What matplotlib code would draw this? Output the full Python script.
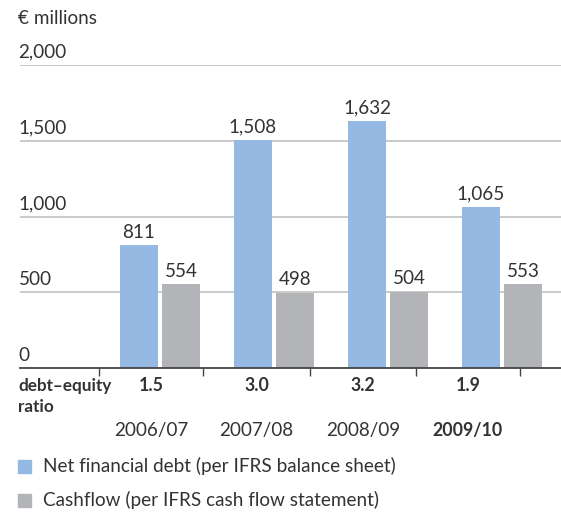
import matplotlib
matplotlib.use("Agg")
import matplotlib.pyplot as plt
from matplotlib.patches import Rectangle
import numpy as np

# data
years = ["2006/07", "2007/08", "2008/09", "2009/10"]
net_debt = [811, 1508, 1632, 1065]
cashflow = [554, 498, 504, 553]
ratios = ["1.5", "3.0", "3.2", "1.9"]
yticks = [0, 500, 1000, 1500, 2000]

blue = "#95b9e3"
grey = "#b3b4b7"
txt = "#333333"
fs = 13.6   # regular text
fsb = 12.3  # bold text

plt.rcParams['font.family'] = ['Lato', 'DejaVu Sans']

fig = plt.figure(figsize=(5.61, 5.24), dpi=100)
W, H = 561, 524
ax = fig.add_axes([20 / W, (H - 368) / H, 541 / W, 303 / H])

x = np.arange(len(years))
bw = 0.333
off = 0.184
b1 = ax.bar(x - off, net_debt, bw, color=blue, zorder=2)
b2 = ax.bar(x + off, cashflow, bw, color=grey, zorder=2)

for bars, vals in ((b1, net_debt), (b2, cashflow)):
    for r, v in zip(bars, vals):
        ax.annotate(f"{v:,}", (r.get_x() + r.get_width() / 2, v),
                    xytext=(0, 3), textcoords="offset points",
                    ha="center", va="bottom", fontsize=fs, color=txt)

ax.set_xlim(-1.228, 3.518)
ax.set_ylim(0, 2000)

# gridlines + y labels sitting on them
for t in yticks:
    if t > 0:
        ax.axhline(t, color="#c6c6c6", lw=1.3, zorder=1)
    ax.annotate(f"{t:,}", (0, t), xycoords=ax.get_yaxis_transform(),
                xytext=(-1, 3), textcoords="offset points",
                ha="left", va="bottom", fontsize=fs, color=txt)

for s in ["top", "right", "left"]:
    ax.spines[s].set_visible(False)
ax.spines["bottom"].set_color("#444444")
ax.spines["bottom"].set_linewidth(1.3)
ax.spines["bottom"].set_zorder(3)

seps = [-0.535, 0.377, 1.316, 2.245, 3.158]
ax.set_xticks(seps)
ax.set_xticklabels([])
ax.tick_params(axis="x", length=6, width=1.0, color="#444444", direction="out")
ax.set_yticks([])

mids = [(a + b) / 2 for a, b in zip(seps[:-1], seps[1:])]
tr = ax.get_xaxis_transform()
for m, r, yr in zip(mids, ratios, years):
    ax.text(m, -0.0594, r, transform=tr, ha="center", va="center",
            fontsize=fsb + 0.5, fontweight="bold", color=txt)
    if yr == "2009/10":
        ax.text(m, -0.205, yr, transform=tr, ha="center", va="center",
                fontsize=fsb + 0.5, fontweight="bold", color=txt)
    else:
        ax.text(m, -0.205, yr, transform=tr, ha="center", va="center",
                fontsize=fs, color=txt)

fig.text(18 / W, 1 - 386 / H, "debt\u2013equity", ha="left", va="center",
         fontsize=fsb, fontweight="bold", color=txt)
fig.text(18 / W, 1 - 407 / H, "ratio", ha="left", va="center",
         fontsize=fsb, fontweight="bold", color=txt)

fig.text(18 / W, 1 - 18 / H, "\u20ac millions", ha="left", va="center",
         fontsize=fs, color=txt)

# legend
for yc, col, lab in ((466, blue, "Net financial debt (per IFRS balance sheet)"),
                     (500, grey, "Cashflow (per IFRS cash flow statement)")):
    fig.patches.append(Rectangle((18 / W, 1 - (yc + 7) / H), 13 / W, 13 / H,
                                 transform=fig.transFigure, color=col))
    fig.text(43 / W, 1 - yc / H, lab, ha="left", va="center",
             fontsize=fs, color=txt)

fig.savefig("out.png", dpi=100)
